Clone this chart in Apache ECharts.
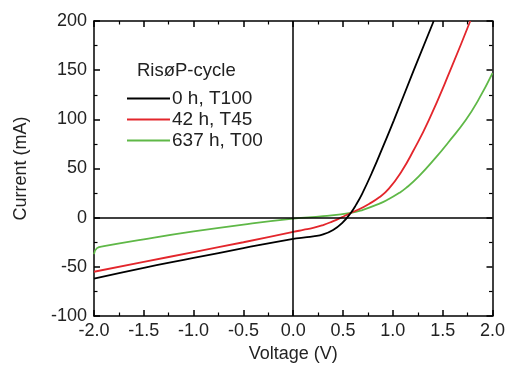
<!DOCTYPE html>
<html><head><meta charset="utf-8">
<script src="https://cdn.jsdelivr.net/npm/echarts@6/dist/echarts.min.js"></script>
<style>html,body{margin:0;padding:0;background:#fff}#c{width:508px;height:371px}</style>
</head><body><div id="c"></div>
<script>
var seriesNames = ['0 h, T100', '42 h, T45', '637 h, T00'];
var seriesColors = ['#000000', '#e3262c', '#5fb847'];
var vBlack = [-2.0, -1.5, -1.0, -0.5, 0.0, 0.1, 0.2, 0.3, 0.4, 0.49, 0.577, 0.63, 0.69, 0.8, 0.9, 1.01, 1.21, 1.41];
var iBlack = [-62, -51, -41, -31, -21.5, -20.3, -19, -17, -12.5, -5.5, 4.8, 13, 24, 48, 72, 99, 150, 200];
var vRed = [-2.0, -1.5, -1.0, -0.5, 0.0, 0.1, 0.2, 0.3, 0.39, 0.48, 0.577, 0.66, 0.76, 0.86, 0.96, 1.093, 1.2, 1.36, 1.577, 1.777];
var iRed = [-55, -45, -35, -25, -14.5, -12.5, -10.5, -7.5, -4, 0, 4.8, 8.5, 14, 20.5, 29.5, 48, 67, 99, 150, 200];
var vGreen = [-2.0, -1.97, -1.9, -1.5, -1.0, -0.5, 0.0, 0.3, 0.577, 0.7, 0.86, 0.96, 1.06, 1.13, 1.26, 1.43, 1.56, 1.73, 1.86, 2.0];
var iGreen = [-37, -31, -29, -22, -14, -7, -1, 1.5, 4.8, 8, 14, 19, 25, 30, 42, 61, 77, 99, 120, 147];
var xTicks = [-2.0, -1.5, -1.0, -0.5, 0.0, 0.5, 1.0, 1.5, 2.0];
var yTicks = [-100, -50, 0, 50, 100, 150, 200];

function pairs(xs, ys) { return xs.map(function (x, i) { return [x, ys[i]]; }); }
var FONT = '"Liberation Sans", Arial, sans-serif';
var TXT = '#222';
var chart = echarts.init(document.getElementById('c'), null, {renderer: 'canvas'});
var axisLine = {show: true, onZero: false, lineStyle: {color: '#000', width: 1.5}};
var tick = {show: true, inside: true, length: 6, lineStyle: {color: '#000', width: 1.5}};
var minor = {show: true, splitNumber: 2, length: 3.5, lineStyle: {color: '#000', width: 1.2}};
function xAx(pos, labels) {
  return {type: 'value', position: pos, min: xTicks[0], max: xTicks[xTicks.length - 1], interval: 0.5,
    axisLine: axisLine, axisTick: tick, minorTick: minor, splitLine: {show: false},
    name: labels ? 'Voltage (V)' : '', nameLocation: 'middle', nameGap: 29,
    nameTextStyle: {fontFamily: FONT, fontSize: 18, color: TXT},
    axisLabel: {show: labels, fontFamily: FONT, fontSize: 18, color: TXT, margin: 6,
      formatter: function (v) { return v.toFixed(1); }}};
}
function yAx(pos, labels) {
  return {type: 'value', position: pos, min: yTicks[0], max: yTicks[yTicks.length - 1], interval: 50,
    axisLine: axisLine, axisTick: tick, minorTick: minor, splitLine: {show: false},
    name: labels ? 'Current (mA)' : '', nameLocation: 'middle', nameGap: 64,
    nameTextStyle: {fontFamily: FONT, fontSize: 18, color: TXT},
    axisLabel: {show: labels, fontFamily: FONT, fontSize: 18, color: TXT, margin: 7}};
}
var data = [pairs(vBlack, iBlack), pairs(vRed, iRed), pairs(vGreen, iGreen)];
var series = data.map(function (d, i) {
  return {name: seriesNames[i], type: 'line', data: d, smooth: 0.5,
    showSymbol: false, symbol: 'none',
    lineStyle: {color: seriesColors[i], width: 1.8}, itemStyle: {color: seriesColors[i]}, z: 5 - i};
});
series[0].markLine = {silent: true, symbol: 'none', label: {show: false},
  lineStyle: {color: '#000', width: 1.5, type: 'solid'}, animation: false,
  data: [{xAxis: 0}, {yAxis: 0}]};
chart.setOption({
  animation: false,
  grid: {left: 94, right: 14, top: 21, bottom: 55},
  title: {text: 'RisøP-cycle', left: 137, top: 61, padding: 0,
    textStyle: {fontFamily: FONT, fontSize: 18.5, fontWeight: 'normal', color: TXT}},
  legend: {orient: 'vertical', left: 127, top: 88, padding: 0, itemGap: 0,
    itemWidth: 43, itemHeight: 2, icon: 'rect',
    textStyle: {fontFamily: FONT, fontSize: 19, color: TXT, lineHeight: 21, padding: [0, 0, 0, -3]},
    data: seriesNames},
  xAxis: [xAx('bottom', true), xAx('top', false)],
  yAxis: [yAx('left', true), yAx('right', false)],
  series: series
});
</script></body></html>
